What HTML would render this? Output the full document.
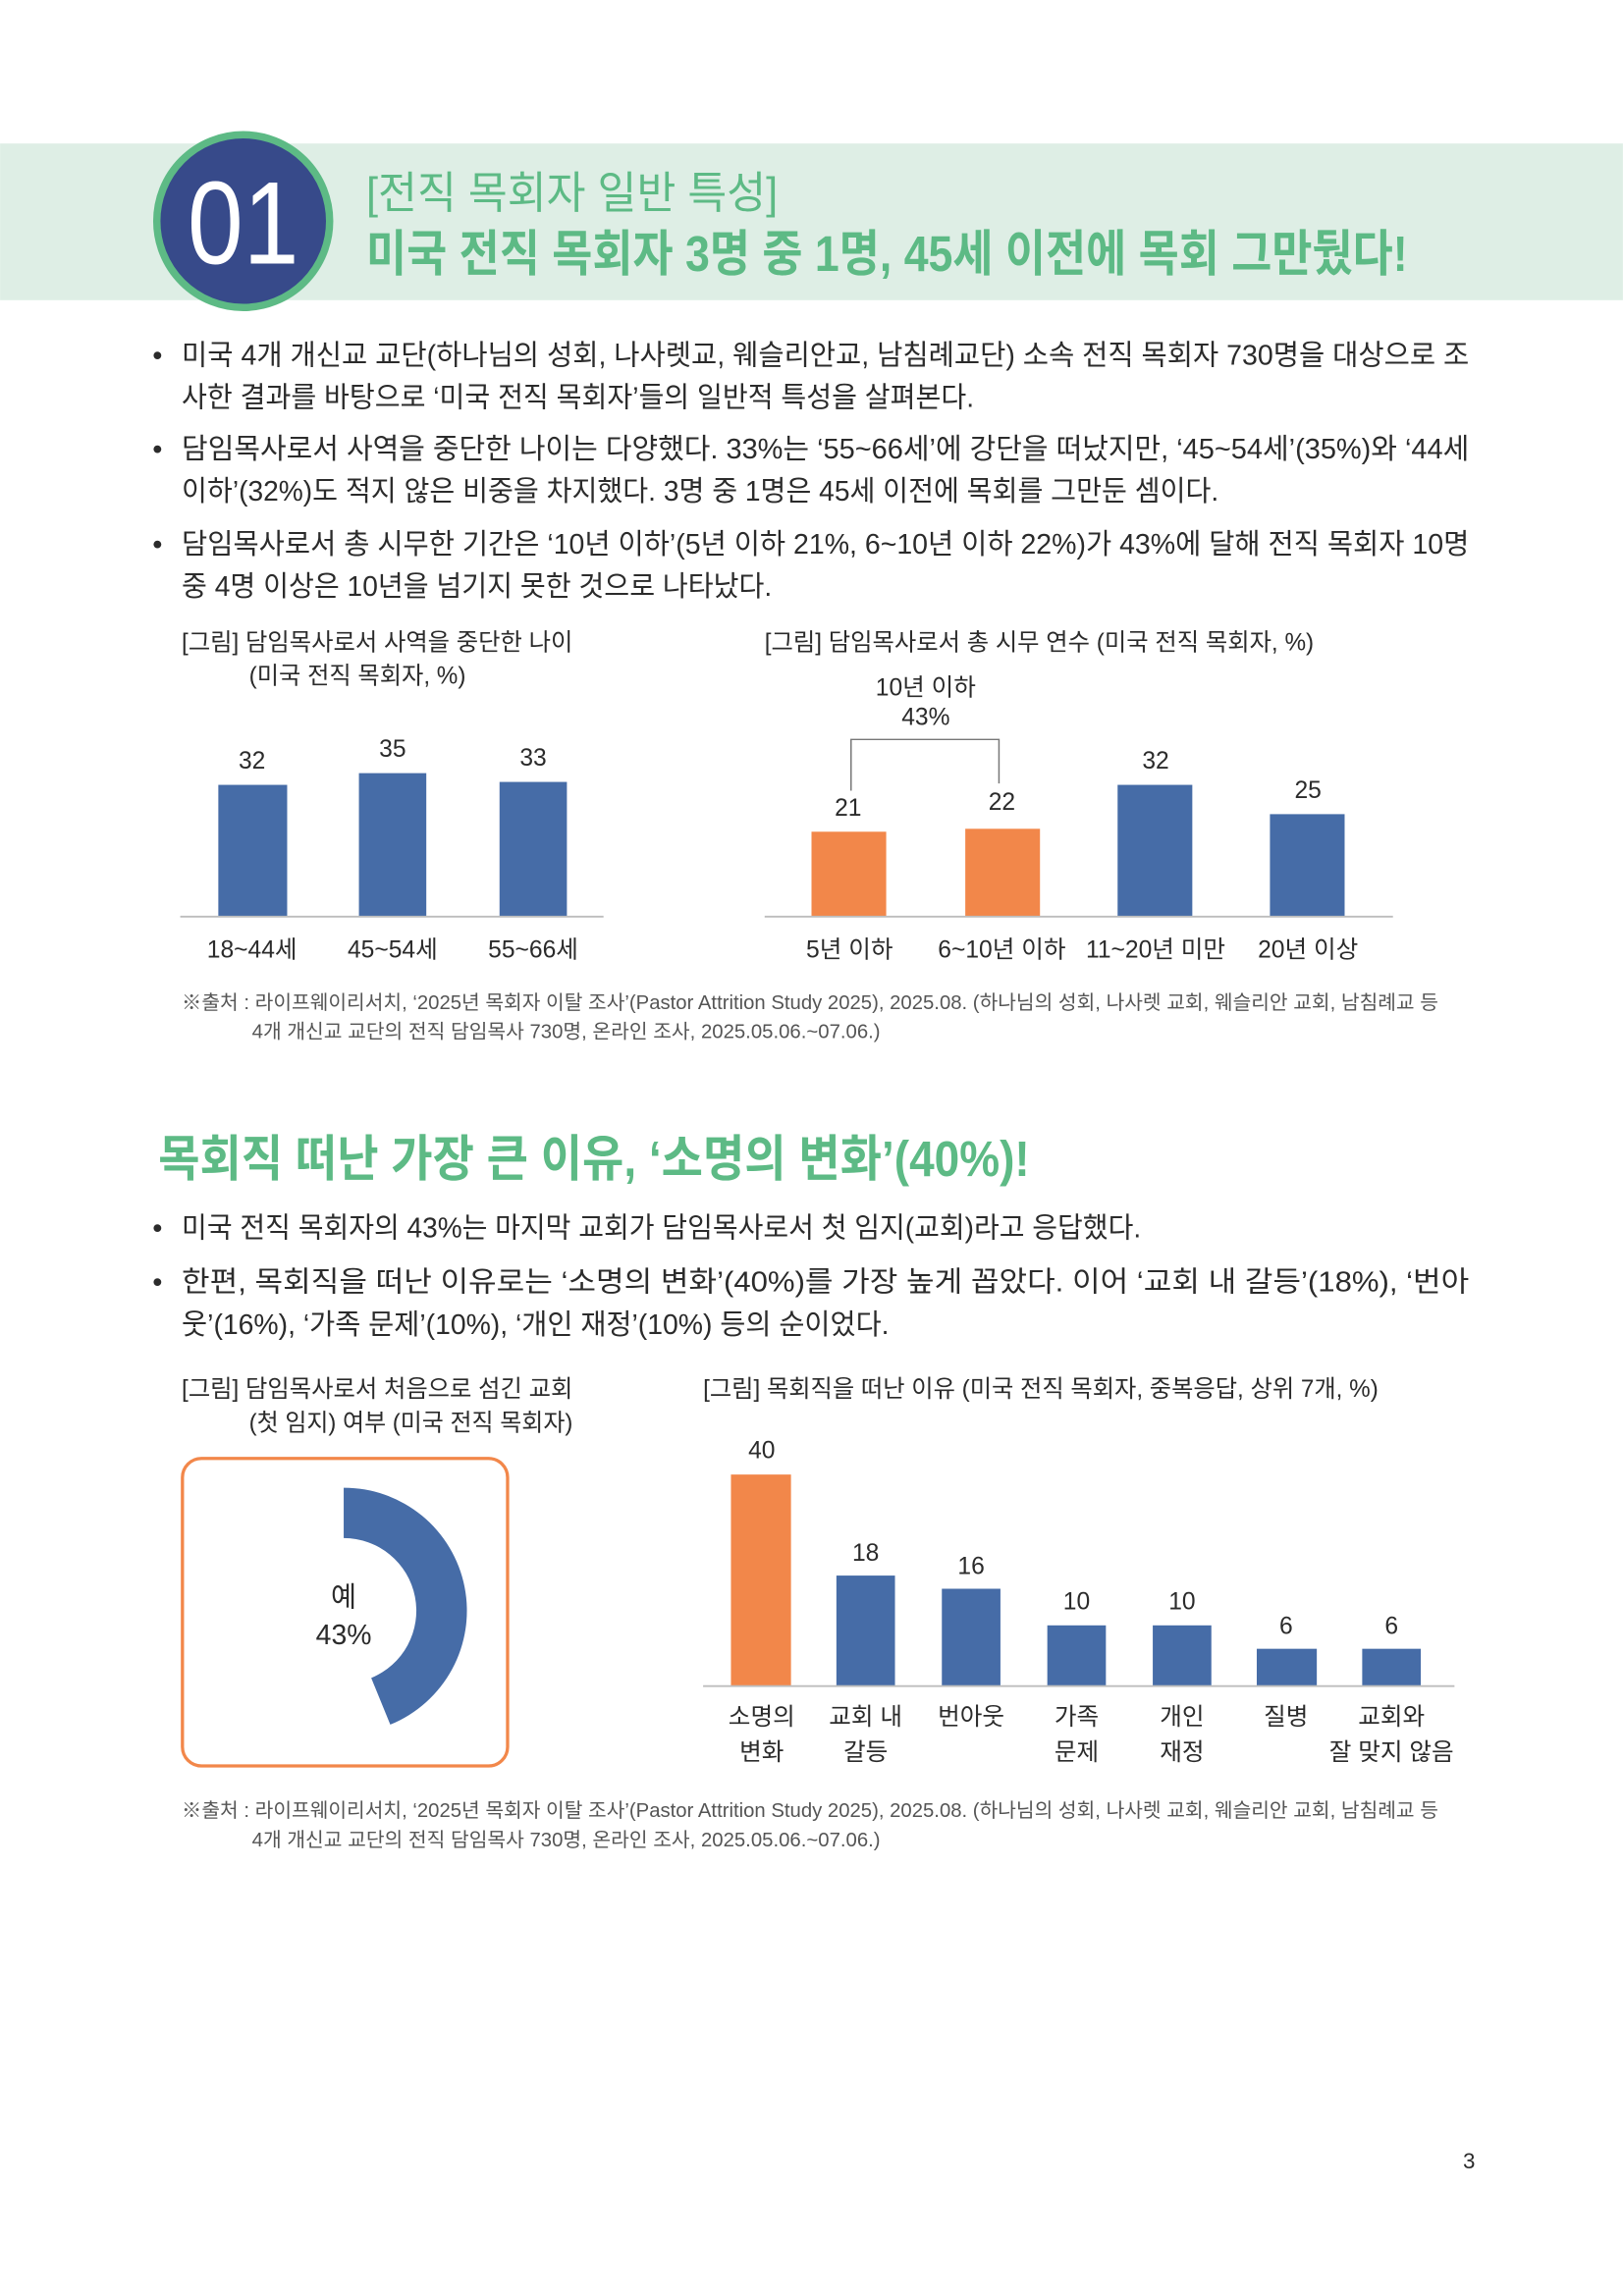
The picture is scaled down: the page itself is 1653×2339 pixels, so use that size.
<!DOCTYPE html>
<html><head><meta charset="utf-8"><style>
html,body{margin:0;padding:0;background:#fff}
svg{display:block}
text{font-family:"Liberation Sans","Noto Sans CJK KR",sans-serif;fill:#2b2b2b}
.b{font-size:19.5px}
.t{font-size:16.5px}
.s{font-size:13.5px;fill:#555}
.n{font-size:16.5px}
</style></head><body>
<svg width="1653" height="2339" viewBox="0 0 1108 1568" xmlns="http://www.w3.org/2000/svg">
<rect width="1108" height="1568" fill="#fff"/>
<!-- header -->
<rect x="0" y="98" width="1108" height="107" fill="#deeee5"/>
<ellipse cx="166" cy="151" rx="59" ry="59" fill="#374a8a" stroke="#5dba85" stroke-width="5"/>
<text x="166" y="180" text-anchor="middle" style="font-size:80px;fill:#fff" textLength="76" lengthAdjust="spacingAndGlyphs">01</text>
<text x="250" y="142" style="font-size:30px;fill:#5dba85" textLength="281" lengthAdjust="spacingAndGlyphs">[전직 목회자 일반 특성]</text>
<text x="250" y="185" style="font-size:34px;fill:#5dba85;font-weight:bold" textLength="711" lengthAdjust="spacingAndGlyphs">미국 전직 목회자 3명 중 1명, 45세 이전에 목회 그만뒀다!</text>
<!-- bullets 1 -->
<g class="b">
<text x="104" y="249">•</text>
<text x="124" y="249" textLength="879" lengthAdjust="spacingAndGlyphs">미국 4개 개신교 교단(하나님의 성회, 나사렛교, 웨슬리안교, 남침례교단) 소속 전직 목회자 730명을 대상으로 조</text>
<text x="124" y="278" textLength="541" lengthAdjust="spacingAndGlyphs">사한 결과를 바탕으로 ‘미국 전직 목회자’들의 일반적 특성을 살펴본다.</text>
<text x="104" y="313">•</text>
<text x="124" y="313" textLength="879" lengthAdjust="spacingAndGlyphs">담임목사로서 사역을 중단한 나이는 다양했다. 33%는 ‘55~66세’에 강단을 떠났지만, ‘45~54세’(35%)와 ‘44세</text>
<text x="124" y="342" textLength="708" lengthAdjust="spacingAndGlyphs">이하’(32%)도 적지 않은 비중을 차지했다. 3명 중 1명은 45세 이전에 목회를 그만둔 셈이다.</text>
<text x="104" y="378">•</text>
<text x="124" y="378" textLength="879" lengthAdjust="spacingAndGlyphs">담임목사로서 총 시무한 기간은 ‘10년 이하’(5년 이하 21%, 6~10년 이하 22%)가 43%에 달해 전직 목회자 10명</text>
<text x="124" y="407" textLength="403" lengthAdjust="spacingAndGlyphs">중 4명 이상은 10년을 넘기지 못한 것으로 나타났다.</text>
</g>
<!-- chart titles -->
<text class="t" x="124" y="444" textLength="267" lengthAdjust="spacingAndGlyphs">[그림] 담임목사로서 사역을 중단한 나이</text>
<text class="t" x="170" y="467" textLength="148" lengthAdjust="spacingAndGlyphs">(미국 전직 목회자, %)</text>
<text class="t" x="522" y="444" textLength="375" lengthAdjust="spacingAndGlyphs">[그림] 담임목사로서 총 시무 연수 (미국 전직 목회자, %)</text>
<!-- chart1 -->
<g fill="#466ca7">
<rect x="149" y="536" width="47" height="90"/>
<rect x="245" y="528" width="46" height="98"/>
<rect x="341" y="534" width="46" height="92"/>
</g>
<line x1="123" y1="626" x2="412" y2="626" stroke="#bdbdbd" stroke-width="1.3"/>
<g class="n" text-anchor="middle">
<text x="172" y="525">32</text><text x="268" y="517">35</text><text x="364" y="523">33</text>
<text x="172" y="654">18~44세</text><text x="268" y="654">45~54세</text><text x="364" y="654">55~66세</text>
</g>
<!-- chart2 -->
<rect x="554" y="568" width="51" height="58" fill="#f2874a"/>
<rect x="659" y="566" width="51" height="60" fill="#f2874a"/>
<rect x="763" y="536" width="51" height="90" fill="#466ca7"/>
<rect x="867" y="556" width="51" height="70" fill="#466ca7"/>
<line x1="522" y1="626" x2="951" y2="626" stroke="#bdbdbd" stroke-width="1.3"/>
<polyline points="581,540 581,505 682,505 682,535" fill="none" stroke="#777" stroke-width="1"/>
<g class="n" text-anchor="middle">
<text x="632" y="475">10년 이하</text><text x="632" y="495">43%</text>
<text x="579" y="557">21</text><text x="684" y="553">22</text><text x="789" y="525">32</text><text x="893" y="545">25</text>
<text x="580" y="654">5년 이하</text><text x="684" y="654">6~10년 이하</text><text x="789" y="654">11~20년 미만</text><text x="893" y="654">20년 이상</text>
</g>
<text class="s" x="124" y="689" textLength="858" lengthAdjust="spacingAndGlyphs">※출처 : 라이프웨이리서치, ‘2025년 목회자 이탈 조사’(Pastor Attrition Study 2025), 2025.08. (하나님의 성회, 나사렛 교회, 웨슬리안 교회, 남침례교 등</text>
<text class="s" x="172" y="709" textLength="429" lengthAdjust="spacingAndGlyphs">4개 개신교 교단의 전직 담임목사 730명, 온라인 조사, 2025.05.06.~07.06.)</text>
<!-- section 2 -->
<text x="108" y="803" style="font-size:34px;fill:#5dba85;font-weight:bold" textLength="595" lengthAdjust="spacingAndGlyphs">목회직 떠난 가장 큰 이유, ‘소명의 변화’(40%)!</text>
<g class="b">
<text x="104" y="845">•</text>
<text x="124" y="845" textLength="655" lengthAdjust="spacingAndGlyphs">미국 전직 목회자의 43%는 마지막 교회가 담임목사로서 첫 임지(교회)라고 응답했다.</text>
<text x="104" y="882">•</text>
<text x="124" y="882" textLength="879" lengthAdjust="spacingAndGlyphs">한편, 목회직을 떠난 이유로는 ‘소명의 변화’(40%)를 가장 높게 꼽았다. 이어 ‘교회 내 갈등’(18%), ‘번아</text>
<text x="124" y="911" textLength="483" lengthAdjust="spacingAndGlyphs">웃’(16%), ‘가족 문제’(10%), ‘개인 재정’(10%) 등의 순이었다.</text>
</g>
<text class="t" x="124" y="954" textLength="267" lengthAdjust="spacingAndGlyphs">[그림] 담임목사로서 처음으로 섬긴 교회</text>
<text class="t" x="170" y="977" textLength="221" lengthAdjust="spacingAndGlyphs">(첫 임지) 여부 (미국 전직 목회자)</text>
<text class="t" x="480" y="954" textLength="461" lengthAdjust="spacingAndGlyphs">[그림] 목회직을 떠난 이유 (미국 전직 목회자, 중복응답, 상위 7개, %)</text>
<!-- donut -->
<rect x="124.5" y="996" width="222" height="210" rx="13" fill="none" stroke="#f2874a" stroke-width="2.2"/>
<path d="M234.6,1016 A84,84 0 0 1 266.4,1177.8 L253.4,1145.9 A49.6,49.6 0 0 0 234.6,1050.4 Z" fill="#466ca7"/>
<text x="234.6" y="1097" text-anchor="middle" style="font-size:19px">예</text>
<text x="234.6" y="1123" text-anchor="middle" style="font-size:19px">43%</text>
<!-- chart3 -->
<rect x="499" y="1007" width="41" height="144" fill="#f2874a"/>
<g fill="#466ca7">
<rect x="571" y="1076" width="40" height="75"/>
<rect x="643" y="1085" width="40" height="66"/>
<rect x="715" y="1110" width="40" height="41"/>
<rect x="787" y="1110" width="40" height="41"/>
<rect x="858" y="1126" width="41" height="25"/>
<rect x="930" y="1126" width="40" height="25"/>
</g>
<line x1="480" y1="1151.5" x2="993" y2="1151.5" stroke="#bdbdbd" stroke-width="1.3"/>
<g class="n" text-anchor="middle">
<text x="520" y="996">40</text><text x="591" y="1066">18</text><text x="663" y="1075">16</text><text x="735" y="1099">10</text><text x="807" y="1099">10</text><text x="878" y="1116">6</text><text x="950" y="1116">6</text>
<text x="520" y="1178">소명의</text><text x="520" y="1202">변화</text>
<text x="591" y="1178">교회 내</text><text x="591" y="1202">갈등</text>
<text x="663" y="1178">번아웃</text>
<text x="735" y="1178">가족</text><text x="735" y="1202">문제</text>
<text x="807" y="1178">개인</text><text x="807" y="1202">재정</text>
<text x="878" y="1178">질병</text>
<text x="950" y="1178">교회와</text><text x="950" y="1202">잘 맞지 않음</text>
</g>
<text class="s" x="124" y="1241" textLength="858" lengthAdjust="spacingAndGlyphs">※출처 : 라이프웨이리서치, ‘2025년 목회자 이탈 조사’(Pastor Attrition Study 2025), 2025.08. (하나님의 성회, 나사렛 교회, 웨슬리안 교회, 남침례교 등</text>
<text class="s" x="172" y="1261" textLength="429" lengthAdjust="spacingAndGlyphs">4개 개신교 교단의 전직 담임목사 730명, 온라인 조사, 2025.05.06.~07.06.)</text>
<text x="1003" y="1481" text-anchor="middle" style="font-size:15px">3</text>
</svg>
</body></html>
